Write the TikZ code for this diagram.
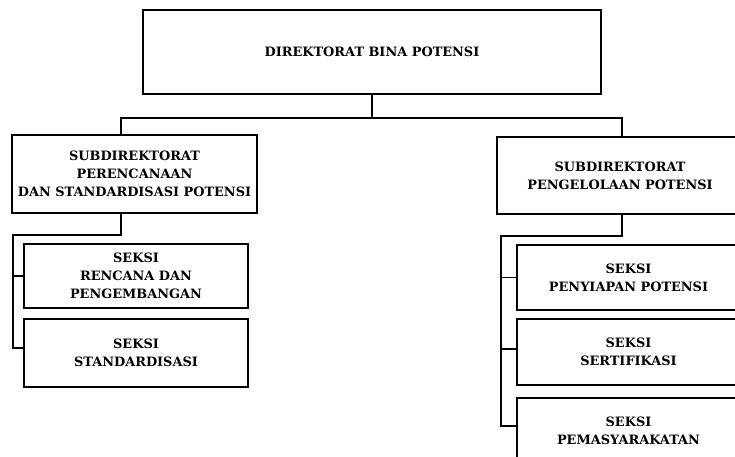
\documentclass[tikz,border=0pt]{standalone}
\usepackage{fontspec}
\setmainfont{DejaVu Serif}
\begin{document}
\begin{tikzpicture}[x=1pt,y=-1pt,
                        box/.style={shape=rectangle,draw,line width=1.2pt,align=center,inner sep=0pt,
                                    font=\bfseries\fontsize{12.9}{18}\selectfont},
                        conn/.style={line width=1.2pt}]
                        \useasboundingbox (0,0) rectangle (735,457);
                        \clip (0,0) rectangle (735,457);
                        \node[box,minimum width=458pt,minimum height=84pt] at (372,52) (dir) {DIREKTORAT BINA POTENSI};
                        \node[box,minimum width=245pt,minimum height=78pt] at (134.5,174) (subA) {SUBDIREKTORAT\\PERENCANAAN\\DAN STANDARDISASI POTENSI};
                        \node[box,minimum width=246pt,minimum height=77pt] at (620,175.5) (subB) {SUBDIREKTORAT\\PENGELOLAAN POTENSI};
                        \node[box,minimum width=224pt,minimum height=64pt] at (136,276) (rencana) {SEKSI\\RENCANA DAN\\PENGEMBANGAN};
                        \node[box,minimum width=224pt,minimum height=68pt] at (136,353) (standar) {SEKSI\\STANDARDISASI};
                        \node[box,minimum width=223pt,minimum height=65pt] at (628.5,277.5) (penyiapan) {SEKSI\\PENYIAPAN POTENSI};
                        \node[box,minimum width=223pt,minimum height=66pt] at (628.5,352) (sertifikasi) {SEKSI\\SERTIFIKASI};
                        \node[box,minimum width=223pt,minimum height=66pt] at (628.5,431) (masyarakat) {SEKSI\\PEMASYARAKATAN};
                        \coordinate (busA) at (121,118);
                        \coordinate (busB) at (622,118);
                        \coordinate (trunkA) at (13,235);
                        \coordinate (trunkB) at (501,236);
                        \draw[conn] (dir.south) -- (dir.south |- busA);
                        \draw[conn] (busA |- subA.north) -- (busA) -- (busB) -- (busB |- subB.north);
                        \draw[conn] (busA |- subA.south) |- (trunkA) |- ([yshift=5pt]standar.west);
                        \draw[conn] (trunkA |- rencana.west) -- (rencana.west);
                        \draw[conn] (busB |- subB.south) |- (trunkB) |- ([yshift=5pt]masyarakat.west);
                        \draw[conn] (trunkB |- penyiapan.west) -- (penyiapan.west);
                        \draw[conn] ([yshift=3pt]trunkB |- sertifikasi.west) -- ([yshift=3pt]sertifikasi.west);
                \end{tikzpicture}
\end{document}
